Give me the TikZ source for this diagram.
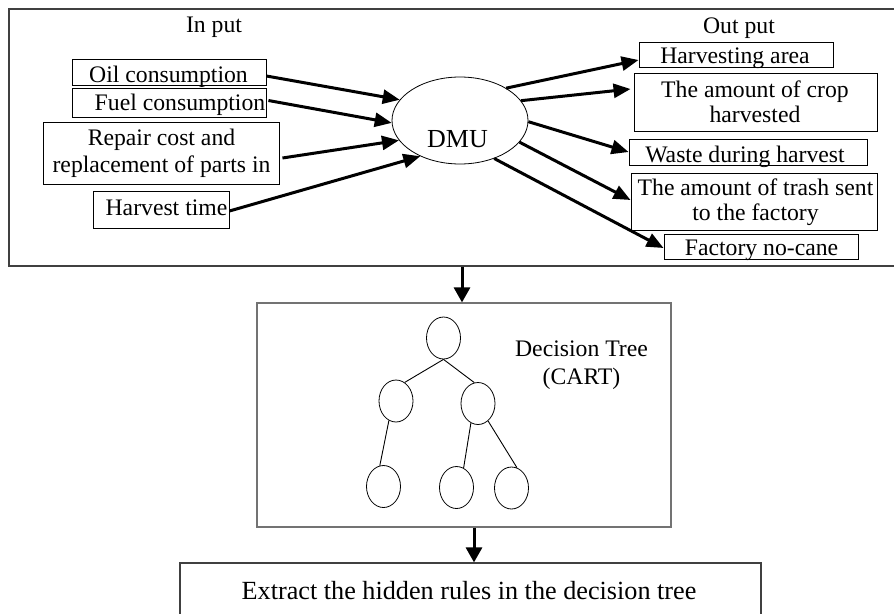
\documentclass[tikz,border=0pt]{standalone}
\usepackage{fontspec}
\setmainfont{Liberation Serif}
\usetikzlibrary{arrows.meta,shapes.geometric}
\begin{document}
\begin{tikzpicture}[x=1pt,y=-1pt,
  frm/.style={draw=black!75, line width=1.2pt, inner sep=0pt},
  box/.style={draw=black, line width=0.9pt, inner sep=0pt},
  txt/.style={inner sep=0pt, anchor=base, font=\fontsize{23.7}{25}\selectfont, align=center},
  arr/.style={line width=3pt, -{Triangle[length=17pt,width=14pt]}},
  dar/.style={line width=3pt, -{Triangle[length=15pt,width=16pt]}},
  tn/.style={draw, ellipse, line width=0.8pt, minimum width=34pt, minimum height=42pt, inner sep=0pt},
  tedge/.style={line width=0.9pt}]
\clip (0,0) rectangle (894,613);
\fill[white] (0,0) rectangle (894,613);
% frames
\node[frm, minimum width=892pt, minimum height=257pt] (frame) at (455,137.5) {};
\node[frm, draw=black!55, minimum width=414pt, minimum height=224pt] (tree) at (464,415) {};
\node[frm, minimum width=581pt, minimum height=87pt] (ext) at (470.5,606.5) {};
% headings
\node[txt] (inh) at (214,32) {In put};
\node[txt] (outh) at (739,33) {Out put};
% input boxes
\node[box, minimum width=194pt, minimum height=26pt] (oil) at (169,72) {};
\node[box, minimum width=194pt, minimum height=29pt] (fuel) at (169,102.5) {};
\node[box, minimum width=236pt, minimum height=62pt] (repair) at (161,153) {};
\node[box, minimum width=136pt, minimum height=37pt] (harv) at (161,209.5) {};
\node[txt] (toil) at (168.5,82) {Oil consumption};
\node[txt] (tfuel) at (180,110) {Fuel consumption};
\node[txt, font=\fontsize{23.7}{27}\selectfont] (trep) at (161.5,172) {Repair cost and\\replacement of parts in};
\node[txt] (tharv) at (166.5,215) {Harvest time};
% DMU
\node[draw, ellipse, line width=0.8pt, minimum width=136pt, minimum height=87pt, inner sep=0pt] (dmu) at (460,120.5) {};
\node[txt, font=\fontsize{26}{28}\selectfont] (tdmu) at (457.5,147) {DMU};
% output boxes
\node[box, minimum width=194pt, minimum height=25pt] (ha) at (736,54.5) {};
\node[box, minimum width=243pt, minimum height=58pt] (crop) at (755.5,102) {};
\node[box, minimum width=238pt, minimum height=26pt] (waste) at (748,152) {};
\node[box, minimum width=246pt, minimum height=57pt] (trash) at (754,201.5) {};
\node[box, minimum width=194pt, minimum height=25pt] (fac) at (761,246.5) {};
\node[txt] (tha) at (735,63) {Harvesting area};
\node[txt] (tcrop) at (755,122) {The amount of crop\\harvested};
\node[txt] (twaste) at (745,162) {Waste during harvest};
\node[txt] (ttrash) at (755.5,220) {The amount of trash sent\\to the factory};
\node[txt] (tfac) at (761.5,255) {Factory no-cane};
% input arrows
\draw[arr] ([yshift=-4pt]oil.east) -- (dmu.161);
\draw[arr] ([xshift=2pt,yshift=2pt]fuel.east) -- (dmu.182);
\draw[arr] ([xshift=3pt,yshift=-5pt]repair.east) -- (dmu.198);
\draw[arr] ([yshift=-1.5pt]harv.east) -- (dmu.222);
% output arrows
\draw[arr] (dmu.35) -- ([yshift=-5.5pt]ha.west);
\draw[arr] (dmu.18) -- ([xshift=-3pt,yshift=13pt]crop.west);
\draw[arr] (dmu.-1) -- (waste.west);
\draw[arr] (dmu.-20) -- ([yshift=1.5pt]trash.west);
\draw[arr] (dmu.-48) -- ([yshift=-1.5pt]fac.west);
% decision tree
\node[tn] (root) at (443.5,338) {};
\node[tn] (lc) at (396,401) {};
\node[tn] (rc) at (478,403.5) {};
\node[tn] (l1) at (383.5,486.5) {};
\node[tn] (l2) at (456.5,487.5) {};
\node[tn] (l3) at (511.5,488) {};
\draw[tedge] (root.south) -- (lc.65);
\draw[tedge] (root.south) -- (rc.100);
\draw[tedge] (lc.250) -- (l1.100);
\draw[tedge] (rc.250) -- (l2.70);
\draw[tedge] (rc.300) -- (l3.75);
\node[txt, font=\fontsize{23.7}{28}\selectfont] (tdt) at (581.5,384) {Decision Tree\\(CART)};
% flow arrows
\draw[dar] ([xshift=-2pt]tree.north |- frame.south) -- ([xshift=-2pt]tree.north);
\draw[dar] ([xshift=10pt]tree.south) -- ([xshift=10pt]tree.south |- ext.north);
\node[txt, font=\fontsize{26.2}{28}\selectfont] (text) at (469,599) {Extract the hidden rules in the decision tree};
\end{tikzpicture}
\end{document}
